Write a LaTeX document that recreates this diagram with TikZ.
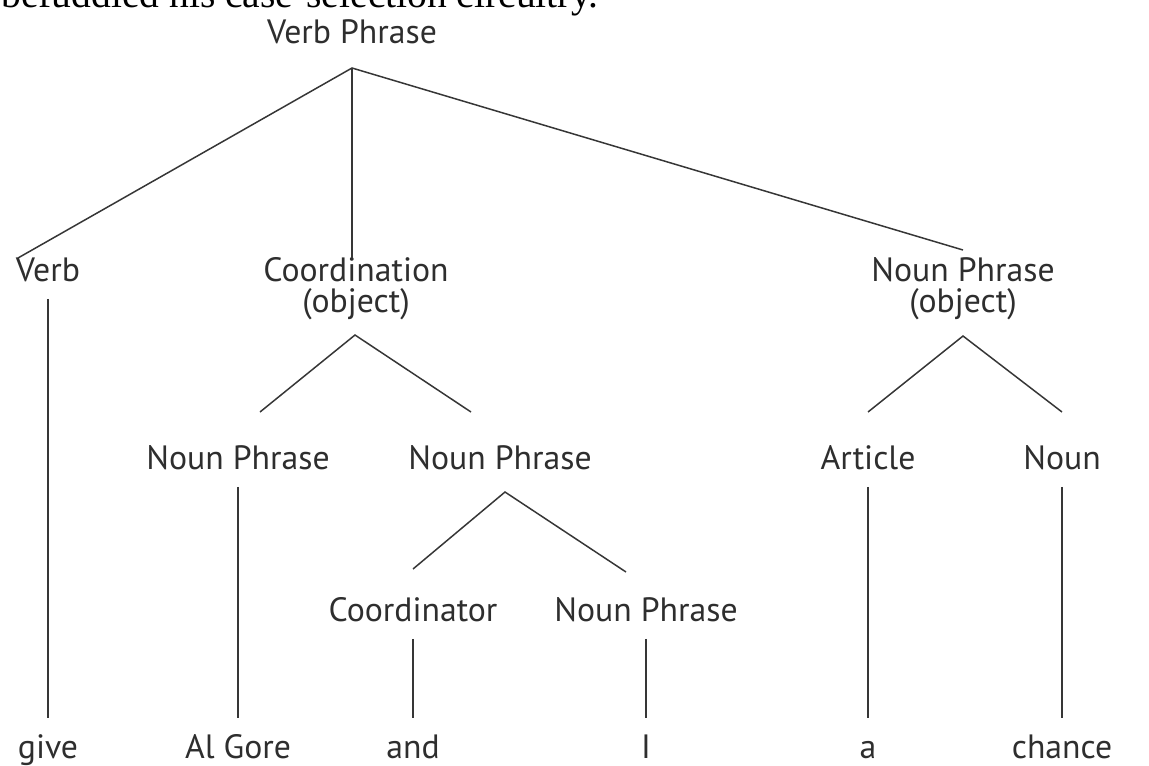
\documentclass[tikz,border=0pt]{standalone}
\usepackage{fontspec}
\setmainfont{PT Sans}
\newfontfamily\bookserif{Liberation Serif}
\usepackage{tikz}
\usetikzlibrary{positioning, calc}
\definecolor{TreeInk}{HTML}{2E2E2E}
\definecolor{BranchGray}{HTML}{363636}

\begin{document}
\begin{tikzpicture}[x=0.02cm, y=-0.02cm,
    cat/.style={text=TreeInk, font=\fontsize{19.2}{17.5}\selectfont, inner sep=0pt,
                anchor=base, align=center, text height=14pt, text depth=5pt},
    branch/.style={BranchGray, line width=0.85pt},
    stem/.style={branch, shorten <=5pt, shorten >=8.5pt}]
    \useasboundingbox (0,0) rectangle (1149,765);

    % Last line of the running text, cut by the page edge
    \begin{scope}
        \clip (0,0) rectangle (1149,765);
        \node[anchor=base west, inner sep=0pt, font=\bookserif\fontsize{22.5}{26}\selectfont]
            (runon) at (1,7) {befuddled his case-selection circuitry.};
    \end{scope}

    % Categories (two-line ones sit on their second line)
    \node[cat] (vp) at (352,43) {Verb Phrase};
    \node[cat] (verb) at (48,281) {Verb};
    \node[cat] (coord) at (356,312) {Coordination\\(object)};
    \node[cat] (npobj) at (963,312) {Noun Phrase\\(object)};
    \node[cat] (npa) at (238,469) {Noun Phrase};
    \node[cat] (npb) at (500,469) {Noun Phrase};
    \node[cat] (art) at (868,469) {Article};
    \node[cat] (noun) at (1062,469) {Noun};
    \node[cat] (cdr) at (413,621) {Coordinator};
    \node[cat] (npc) at (646,621) {Noun Phrase};

    % Words
    \node[cat] (give) at (48,758) {give};
    \node[cat] (algore) at (238,758) {Al Gore};
    \node[cat] (and) at (413,758) {and};
    \node[cat] (pron) at (646,758) {I};
    \node[cat] (det) at (868,758) {a};
    \node[cat] (chance) at (1062,758) {chance};

    % Fork points and branch ends
    \coordinate (vp-fork) at (352,68);
    \coordinate (verb-end) at (18,258);
    \coordinate (coord-end) at (352,258);
    \coordinate (npobj-end) at (963,250);
    \coordinate (coord-fork) at (355,335);
    \coordinate (npa-end) at (260,412);
    \coordinate (npb-end) at (471,412);
    \coordinate (npb-fork) at (505,492);
    \coordinate (cdr-end) at (413,569);
    \coordinate (npc-end) at (626,572);
    \coordinate (npobj-fork) at (963,336);
    \coordinate (art-end) at (868,412);
    \coordinate (noun-end) at (1062,412);

    % Branches
    \draw[branch] (verb-end) -- (vp-fork) -- (npobj-end);
    \draw[branch] (vp-fork) -- (coord-end);
    \draw[branch] (npa-end) -- (coord-fork) -- (npb-end);
    \draw[branch] (cdr-end) -- (npb-fork) -- (npc-end);
    \draw[branch] (art-end) -- (npobj-fork) -- (noun-end);

    % Single daughters
    \foreach \hi/\lo in {verb/give, npa/algore, cdr/and, npc/pron, art/det, noun/chance}
        \draw[stem] (\hi) -- (\lo);
\end{tikzpicture}
\end{document}
